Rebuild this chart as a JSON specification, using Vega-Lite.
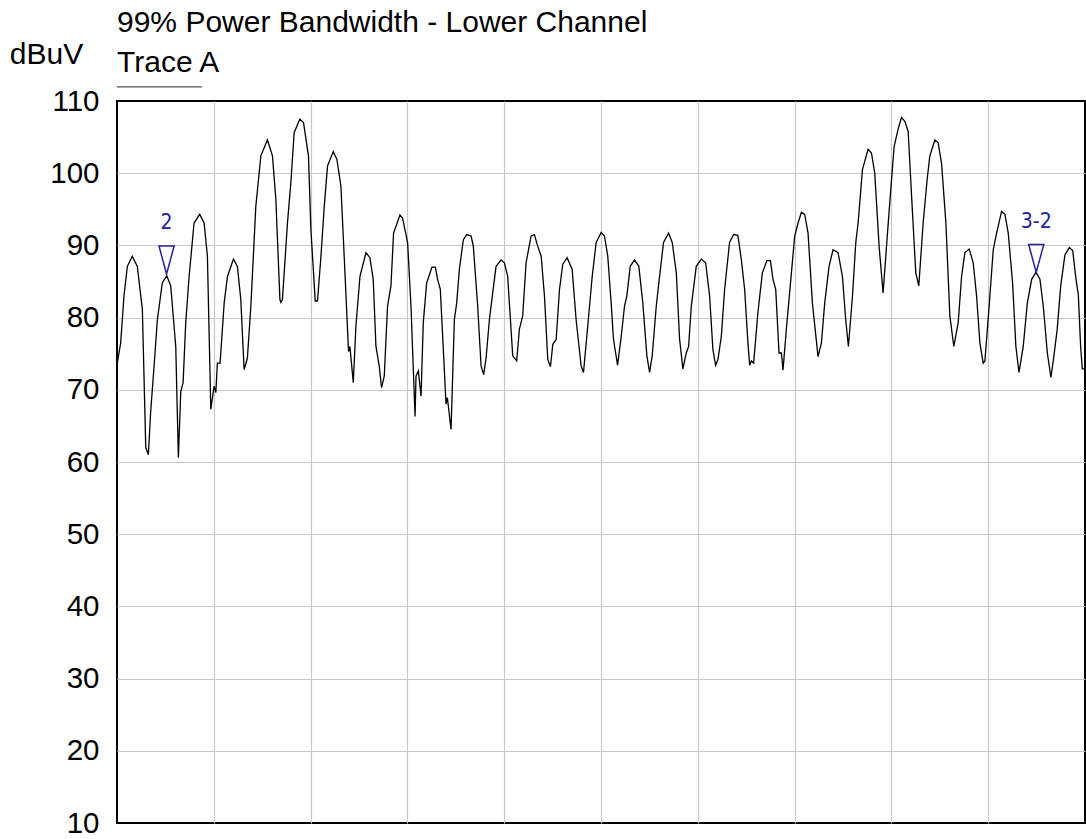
{
  "$schema": "https://vega.github.io/schema/vega-lite/v6.json",
  "width": 968,
  "height": 722,
  "autosize": {"type": "none"},
  "padding": {"left": 117, "top": 101, "right": 1, "bottom": 16},
  "background": "white",
  "config": {
    "view": {"stroke": "black", "strokeWidth": 2},
    "font": "Liberation Sans"
  },
  "title": {
    "text": "99% Power Bandwidth - Lower Channel",
    "subtitle": "Trace A",
    "anchor": "start",
    "frame": "group",
    "offset": -39,
    "font": "Liberation Sans",
    "fontSize": 30,
    "fontWeight": "normal",
    "color": "black",
    "subtitleFont": "Liberation Sans",
    "subtitleFontSize": 30,
    "subtitleColor": "black",
    "subtitlePadding": 10
  },
  "datasets": {
    "trace": [
      {"f":0,"a":73.5},{"f":0.38,"a":76.5},{"f":0.72,"a":83},{"f":1.07,"a":87.1},{"f":1.58,"a":88.5},{"f":2.1,"a":87.1},{"f":2.62,"a":81.1},{"f":2.97,"a":62},{"f":3.24,"a":61},{"f":3.48,"a":67},{"f":3.83,"a":73.3},{"f":4.17,"a":79.7},{"f":4.68,"a":84.8},{"f":5.14,"a":85.8},{"f":5.55,"a":84.4},{"f":6.07,"a":76},{"f":6.34,"a":60.6},{"f":6.59,"a":69.8},{"f":6.83,"a":71},{"f":7.1,"a":79.3},{"f":7.45,"a":85.7},{"f":7.96,"a":93.1},{"f":8.55,"a":94.3},{"f":9,"a":93.1},{"f":9.34,"a":88.5},{"f":9.69,"a":67.3},{"f":10.03,"a":70.5},{"f":10.21,"a":69.6},{"f":10.37,"a":73.7},{"f":10.65,"a":73.7},{"f":11.07,"a":82},{"f":11.41,"a":85.7},{"f":12.03,"a":88.1},{"f":12.44,"a":87.1},{"f":12.79,"a":82.5},{"f":13.13,"a":72.8},{"f":13.47,"a":74.4},{"f":13.83,"a":81.6},{"f":14.34,"a":95.4},{"f":14.86,"a":102.4},{"f":15.54,"a":104.6},{"f":16.06,"a":102.4},{"f":16.41,"a":96.4},{"f":16.83,"a":82.5},{"f":16.93,"a":82.1},{"f":17.09,"a":82.5},{"f":17.61,"a":93.1},{"f":17.96,"a":98.7},{"f":18.3,"a":105.6},{"f":18.89,"a":107.5},{"f":19.27,"a":107},{"f":19.78,"a":102.4},{"f":20.03,"a":92.2},{"f":20.48,"a":82.3},{"f":20.71,"a":82.3},{"f":21.07,"a":88.5},{"f":21.41,"a":95.4},{"f":21.75,"a":101},{"f":22.34,"a":103},{"f":22.72,"a":101.9},{"f":23.13,"a":98.2},{"f":23.47,"a":88.5},{"f":23.92,"a":75.3},{"f":24.06,"a":76},{"f":24.41,"a":71},{"f":24.68,"a":78.8},{"f":25.1,"a":85.7},{"f":25.72,"a":89},{"f":26.13,"a":88.3},{"f":26.47,"a":85.3},{"f":26.75,"a":76},{"f":27.09,"a":73.3},{"f":27.33,"a":70.3},{"f":27.61,"a":71.9},{"f":27.95,"a":81.6},{"f":28.3,"a":84.4},{"f":28.57,"a":91.7},{"f":29.23,"a":94.2},{"f":29.5,"a":93.8},{"f":30.02,"a":90.4},{"f":30.37,"a":81.6},{"f":30.79,"a":66.3},{"f":30.89,"a":71.9},{"f":31.13,"a":72.6},{"f":31.41,"a":69.1},{"f":31.64,"a":79.3},{"f":31.99,"a":84.8},{"f":32.54,"a":87},{"f":32.89,"a":87},{"f":33.12,"a":85.3},{"f":33.4,"a":83.9},{"f":33.71,"a":75.6},{"f":33.99,"a":68},{"f":34.13,"a":68.9},{"f":34.51,"a":64.5},{"f":34.85,"a":79.7},{"f":35.09,"a":82},{"f":35.37,"a":86.7},{"f":35.78,"a":90.8},{"f":36.12,"a":91.5},{"f":36.58,"a":91.3},{"f":36.81,"a":89.9},{"f":37.26,"a":81.6},{"f":37.61,"a":73.3},{"f":37.88,"a":72.1},{"f":38.13,"a":74.4},{"f":38.47,"a":79.7},{"f":38.81,"a":83.4},{"f":39.16,"a":87.1},{"f":39.68,"a":88},{"f":40.02,"a":87.6},{"f":40.36,"a":85.7},{"f":40.88,"a":74.7},{"f":41.29,"a":74},{"f":41.57,"a":78.4},{"f":41.91,"a":80.2},{"f":42.26,"a":87.6},{"f":42.78,"a":91.3},{"f":43.12,"a":91.5},{"f":43.46,"a":89.9},{"f":43.82,"a":88.5},{"f":44.16,"a":83},{"f":44.5,"a":74.2},{"f":44.78,"a":73.2},{"f":45.02,"a":76.3},{"f":45.37,"a":77},{"f":45.71,"a":83.9},{"f":46.05,"a":87.4},{"f":46.5,"a":88.3},{"f":47.02,"a":86.7},{"f":47.43,"a":79.7},{"f":47.95,"a":73.3},{"f":48.19,"a":72.4},{"f":48.63,"a":78.8},{"f":49.09,"a":85.7},{"f":49.5,"a":90.4},{"f":50.02,"a":91.8},{"f":50.36,"a":91.3},{"f":50.7,"a":88.5},{"f":51.05,"a":82},{"f":51.29,"a":77},{"f":51.71,"a":73.4},{"f":52.09,"a":77.4},{"f":52.43,"a":81.6},{"f":52.67,"a":83},{"f":53.02,"a":87.1},{"f":53.46,"a":88},{"f":53.91,"a":87.1},{"f":54.32,"a":82},{"f":54.74,"a":74.7},{"f":55.02,"a":72.4},{"f":55.29,"a":74.7},{"f":55.71,"a":81.6},{"f":56.05,"a":85.7},{"f":56.46,"a":90.4},{"f":56.98,"a":91.7},{"f":57.36,"a":90.4},{"f":57.78,"a":86.2},{"f":58.12,"a":77},{"f":58.46,"a":72.9},{"f":58.81,"a":75.1},{"f":59.05,"a":76},{"f":59.33,"a":81.6},{"f":59.84,"a":87.1},{"f":60.36,"a":88.1},{"f":60.81,"a":87.6},{"f":61.22,"a":83},{"f":61.56,"a":75.6},{"f":61.84,"a":73.4},{"f":62.08,"a":74.2},{"f":62.43,"a":77.4},{"f":62.77,"a":83.9},{"f":63.28,"a":90.4},{"f":63.7,"a":91.5},{"f":64.14,"a":91.4},{"f":64.5,"a":88},{"f":64.84,"a":83.9},{"f":65.18,"a":76.5},{"f":65.36,"a":73.4},{"f":65.53,"a":74},{"f":65.77,"a":73.7},{"f":66.21,"a":80.7},{"f":66.67,"a":86.2},{"f":67.14,"a":87.9},{"f":67.5,"a":87.9},{"f":67.77,"a":85.3},{"f":68.05,"a":83.9},{"f":68.39,"a":75.1},{"f":68.64,"a":75.1},{"f":68.8,"a":72.7},{"f":69.15,"a":78.4},{"f":69.67,"a":86.2},{"f":70.01,"a":91.3},{"f":70.36,"a":93.1},{"f":70.7,"a":94.6},{"f":71.04,"a":94.3},{"f":71.39,"a":91.7},{"f":71.84,"a":82},{"f":72.42,"a":74.6},{"f":72.77,"a":76.5},{"f":73.11,"a":82},{"f":73.56,"a":87.1},{"f":73.97,"a":89.4},{"f":74.49,"a":89},{"f":74.94,"a":85.7},{"f":75.28,"a":79.7},{"f":75.56,"a":76},{"f":75.98,"a":83},{"f":76.32,"a":90.4},{"f":76.56,"a":93.1},{"f":77.01,"a":100.5},{"f":77.59,"a":103.3},{"f":77.94,"a":102.8},{"f":78.28,"a":100},{"f":78.73,"a":89.9},{"f":79.14,"a":83.4},{"f":79.42,"a":88.5},{"f":79.83,"a":95.9},{"f":80.28,"a":103.7},{"f":80.69,"a":106.1},{"f":81.04,"a":107.7},{"f":81.39,"a":107.2},{"f":81.73,"a":105.8},{"f":82.18,"a":94.5},{"f":82.52,"a":86.2},{"f":82.83,"a":84.4},{"f":83.28,"a":93.1},{"f":83.69,"a":99.1},{"f":83.97,"a":102.4},{"f":84.49,"a":104.6},{"f":84.83,"a":104.2},{"f":85.18,"a":101.4},{"f":85.63,"a":93.1},{"f":86.04,"a":80.2},{"f":86.45,"a":76},{"f":86.9,"a":79.3},{"f":87.25,"a":85.7},{"f":87.59,"a":89},{"f":88.04,"a":89.5},{"f":88.45,"a":87.6},{"f":88.8,"a":83},{"f":89.14,"a":76.5},{"f":89.48,"a":73.7},{"f":89.66,"a":74},{"f":90.1,"a":81.6},{"f":90.52,"a":89.4},{"f":90.87,"a":91.7},{"f":91.38,"a":94.7},{"f":91.73,"a":94.3},{"f":92.07,"a":91.7},{"f":92.52,"a":84.8},{"f":92.86,"a":76},{"f":93.18,"a":72.4},{"f":93.62,"a":76},{"f":94.04,"a":82},{"f":94.49,"a":85.3},{"f":94.94,"a":86.3},{"f":95.35,"a":85.3},{"f":95.69,"a":81.6},{"f":96.11,"a":75.1},{"f":96.48,"a":71.7},{"f":96.79,"a":74.7},{"f":97.13,"a":78.4},{"f":97.49,"a":84.4},{"f":97.93,"a":88.7},{"f":98.38,"a":89.7},{"f":98.73,"a":89.3},{"f":99.07,"a":85.3},{"f":99.31,"a":83.2},{"f":99.55,"a":76},{"f":99.72,"a":72.9},{"f":100,"a":72.9}
    ],
    "markers": [
      {"f": 5.12, "a": 87.97, "lbl": "2", "ly": 92.3},
      {"f": 94.96, "a": 88.2, "lbl": "3-2", "ly": 92.4}
    ],
    "underline": [
      {"x0": 0, "x1": 8.76, "y0": 111.97}
    ]
  },
  "layer": [
    {
      "data": {"name": "trace"},
      "mark": {"type": "line", "color": "black", "strokeWidth": 1.3, "interpolate": "linear"},
      "encoding": {
        "x": {
          "field": "f", "type": "quantitative",
          "scale": {"domain": [0, 100], "nice": false, "zero": false},
          "axis": {
            "values": [10, 20, 30, 40, 50, 60, 70, 80, 90],
            "labels": false, "ticks": false, "domain": false, "title": null,
            "grid": true, "gridColor": "#c8c8c8", "gridWidth": 1.2
          }
        },
        "y": {
          "field": "a", "type": "quantitative",
          "scale": {"domain": [10, 110], "nice": false, "zero": false},
          "axis": {
            "values": [10, 20, 30, 40, 50, 60, 70, 80, 90, 100, 110],
            "ticks": false, "domain": false,
            "grid": true, "gridWidth": 1.2,
            "gridColor": {"condition": {"test": "datum.value == 10 || datum.value == 110", "value": "transparent"}, "value": "#c8c8c8"},
            "labelFont": "Liberation Sans", "labelFontSize": 29.5, "labelColor": "black",
            "labelPadding": 18, "labelBaseline": "middle",
            "title": "dBuV", "titleAngle": 0, "titleFont": "Liberation Sans",
            "titleFontSize": 30, "titleFontWeight": "normal", "titleColor": "black",
            "titleAlign": "center", "titleBaseline": "alphabetic",
            "titleX": -71, "titleY": -38
          }
        }
      }
    },
    {
      "data": {"name": "markers"},
      "mark": {"type": "point", "shape": "M-0.54,-1L0.54,-1L0,1Z", "size": 784, "filled": false, "stroke": "#22229a", "strokeWidth": 1.5, "opacity": 1},
      "encoding": {
        "x": {"field": "f", "type": "quantitative"},
        "y": {"field": "a", "type": "quantitative"}
      }
    },
    {
      "data": {"name": "markers"},
      "mark": {"type": "text", "font": "Liberation Sans Narrow, DejaVu Sans Condensed, sans-serif", "fontSize": 21, "color": "#22229a", "align": "center", "baseline": "alphabetic"},
      "encoding": {
        "x": {"field": "f", "type": "quantitative"},
        "y": {"field": "ly", "type": "quantitative"},
        "text": {"field": "lbl"}
      }
    },
    {
      "data": {"name": "underline"},
      "mark": {"type": "rule", "color": "#555555", "strokeWidth": 1.2, "clip": false},
      "encoding": {
        "x": {"field": "x0", "type": "quantitative"},
        "x2": {"field": "x1"},
        "y": {"field": "y0", "type": "quantitative"}
      }
    }
  ]
}
